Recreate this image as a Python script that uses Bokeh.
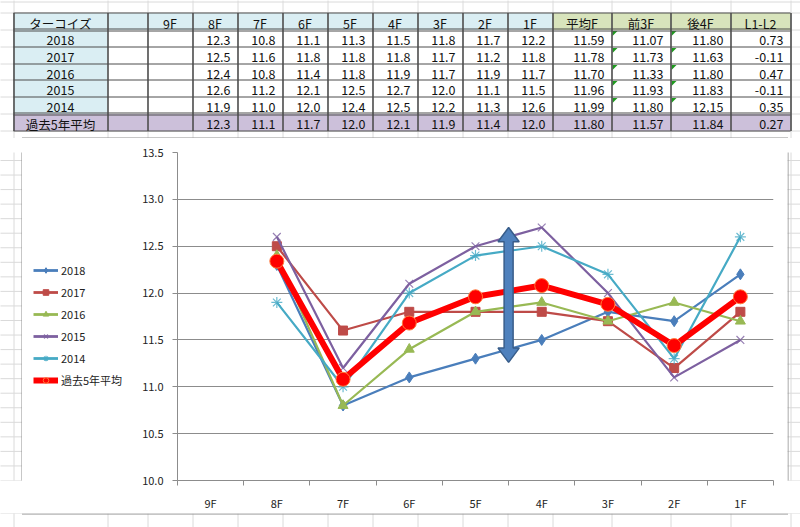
import numpy as np
from bokeh.plotting import figure
from bokeh.models import Range1d, FixedTicker, Legend, LegendItem, ColumnDataSource, PrintfTickFormatter
from bokeh.layouts import column, row
from bokeh.embed import file_html
from bokeh.resources import INLINE
from bokeh.core.properties import value

# ---------------- data ----------------
sections = ["9F", "8F", "7F", "6F", "5F", "4F", "3F", "2F", "1F"]
years = ["2018", "2017", "2016", "2015", "2014"]
corner_label = "ターコイズ"
avg_label = "過去5年平均"
times_2018 = [np.nan, 12.3, 10.8, 11.1, 11.3, 11.5, 11.8, 11.7, 12.2]
times_2017 = [np.nan, 12.5, 11.6, 11.8, 11.8, 11.8, 11.7, 11.2, 11.8]
times_2016 = [np.nan, 12.4, 10.8, 11.4, 11.8, 11.9, 11.7, 11.9, 11.7]
times_2015 = [np.nan, 12.6, 11.2, 12.1, 12.5, 12.7, 12.0, 11.1, 11.5]
times_2014 = [np.nan, 11.9, 11.0, 12.0, 12.4, 12.5, 12.2, 11.3, 12.6]
times_avg = [np.nan, 12.34, 11.08, 11.68, 11.96, 12.08, 11.88, 11.44, 11.96]
stat_headers = ["平均F", "前3F", "後4F", "L1-L2"]
# rows: 2018, 2017, 2016, 2015, 2014, 5-year average
avg_f = [11.59, 11.78, 11.70, 11.96, 11.99, 11.80]
front_3f = [11.07, 11.73, 11.33, 11.93, 11.80, 11.57]
back_4f = [11.80, 11.63, 11.80, 11.83, 12.15, 11.84]
l1_l2 = [0.73, -0.11, 0.47, -0.11, 0.35, 0.27]
y_ticks = [10.0, 10.5, 11.0, 11.5, 12.0, 12.5, 13.0, 13.5]
arrow_x = 5.0
arrow_top = 12.70
arrow_bottom = 11.26

FONT = "Noto Sans CJK JP"
SHEET_LINE = "#DADADA"
BORDER = "#4D4D4D"
BOX_LINE = "#8E8E8E"

# ---------------- sheet geometry ----------------
COL_EDGES = [13, 107, 147, 192, 237, 282, 327, 372, 417, 462, 507, 552, 611, 670, 730, 790]
ROW_EDGES = [12.5, 29.5, 46.5, 63.5, 79.5, 96.5, 113.5, 130.5]
SHEET_COLS = [c + 0.5 for c in COL_EDGES]
SHEET_ROWS = [1.5] + list(ROW_EDGES) + list(130.5 + 16.63 * np.arange(1, 25))


def plain_fig(x0, y0, w, h):
    p = figure(width=w, height=h, x_range=Range1d(x0, x0 + w), y_range=Range1d(y0 + h, y0),
               x_axis_location=None, y_axis_location=None, toolbar_location=None,
               output_backend="svg", min_border=0, outline_line_color=None,
               background_fill_color="white", border_fill_color="white")
    p.grid.visible = False
    return p


def sheet_fig(x0, y0, w, h):
    p = plain_fig(x0, y0, w, h)
    p.segment(x0=SHEET_COLS, x1=SHEET_COLS, y0=[-10] * len(SHEET_COLS), y1=[540] * len(SHEET_COLS),
              line_color=SHEET_LINE, line_width=1)
    p.segment(x0=[-10] * len(SHEET_ROWS), x1=[810] * len(SHEET_ROWS), y0=SHEET_ROWS, y1=SHEET_ROWS,
              line_color=SHEET_LINE, line_width=1)
    return p


# ---------------- table ----------------
tp = sheet_fig(0, 0, 800, 138)

header = [corner_label, ""] + sections + stat_headers
body = []
for i, yr in enumerate(years):
    vals = [times_2018, times_2017, times_2016, times_2015, times_2014][i]
    body.append([yr, ""] + ["" if np.isnan(v) else "%.1f" % v for v in vals]
                + ["%.2f" % avg_f[i], "%.2f" % front_3f[i], "%.2f" % back_4f[i], "%.2f" % l1_l2[i]])
body.append([avg_label, ""] + ["" if np.isnan(v) else "%.1f" % v for v in times_avg]
            + ["%.2f" % avg_f[5], "%.2f" % front_3f[5], "%.2f" % back_4f[5], "%.2f" % l1_l2[5]])
table = [header] + body

BLUE = "#DAEEF3"
GREEN = "#D8E4BC"
PURPLE = "#CCC0DA"
qx0, qx1, qy0, qy1, qfill = [], [], [], [], []
cx, cy, ct, rx, ry, rt = [], [], [], [], [], []
for r, cells in enumerate(table):
    top, bot = ROW_EDGES[r], ROW_EDGES[r + 1]
    for c, txt in enumerate(cells):
        left, right = COL_EDGES[c], COL_EDGES[c + 1]
        if r == 0:
            fill = BLUE if c <= 10 else GREEN
        elif r == len(table) - 1:
            fill = PURPLE
        else:
            fill = BLUE if c == 0 else "white"
        qx0.append(left); qx1.append(right); qy0.append(top); qy1.append(bot); qfill.append(fill)
        ymid = (top + bot) / 2 + 1.5
        if r == 0 or c == 0:
            cx.append((left + right) / 2); cy.append(ymid); ct.append(txt)
        elif txt:
            rx.append(right - 7); ry.append(ymid); rt.append(txt)

tp.quad(left=qx0, right=qx1, top=qy0, bottom=qy1, fill_color=qfill, line_color=None)
# error-indicator triangles
tri_x, tri_y = [], []
for c in (12, 13):
    for r in range(1, 6):
        x, y = COL_EDGES[c] + 1, ROW_EDGES[r] + 1
        tri_x.append([x, x + 5, x]); tri_y.append([y, y, y + 5])
tp.patches(tri_x, tri_y, fill_color="#1F9A1F", line_color=None)

# borders
h_single = [12.5, 46.5, 63.5, 79.5, 96.5, 130.5]
h_double = [28.5, 30.5, 112.5, 114.5]
hs = h_single + h_double
tp.segment(x0=[13] * len(hs), x1=[790] * len(hs), y0=hs, y1=hs, line_color=BORDER, line_width=1)
tp.segment(x0=SHEET_COLS, x1=SHEET_COLS, y0=[12.5] * len(SHEET_COLS), y1=[130.5] * len(SHEET_COLS),
           line_color=BORDER, line_width=1.6)

tp.text(x=cx, y=cy, text=ct, text_font=value(FONT), text_font_size="12.5px",
        text_align="center", text_baseline="middle", text_color="#111111")
tp.text(x=rx, y=ry, text=rt, text_font=value(FONT), text_font_size="12.5px",
        text_align="right", text_baseline="middle", text_color="#111111")
# chart box top edge
tp.segment(x0=[21.5], x1=[787.5], y0=[137.5], y1=[137.5], line_color=BOX_LINE, line_width=1)

# ---------------- side / bottom sheet strips ----------------
lp = sheet_fig(0, 138, 22, 375)
lp.segment(x0=[21.5], x1=[21.5], y0=[137], y1=[514], line_color=BOX_LINE, line_width=1)
rp = sheet_fig(787, 138, 13, 375)
rp.segment(x0=[787.5], x1=[787.5], y0=[137], y1=[514], line_color=BOX_LINE, line_width=1)
bp = sheet_fig(0, 513, 800, 14)
bp.segment(x0=[21.5], x1=[787.5], y0=[513.5], y1=[513.5], line_color=BOX_LINE, line_width=1)

# ---------------- chart ----------------
p = figure(width=652, height=375, x_range=Range1d(0, len(sections)), y_range=Range1d(10, 13.5),
           toolbar_location=None, output_backend="svg",
           min_border_left=42, min_border_right=14, min_border_top=14, min_border_bottom=31,
           outline_line_color=None, background_fill_color="white", border_fill_color="white")

xs = [i + 0.5 for i in range(len(sections))]
src = ColumnDataSource(dict(x=xs, s2018=times_2018, s2017=times_2017, s2016=times_2016,
                            s2015=times_2015, s2014=times_2014, savg=times_avg))

p.xgrid.visible = False
p.ygrid.grid_line_color = "#8C8C8C"
p.ygrid.grid_line_width = 1
p.yaxis.ticker = FixedTicker(ticks=y_ticks)
p.yaxis.formatter = PrintfTickFormatter(format="%.1f")
p.xaxis.ticker = FixedTicker(ticks=xs, minor_ticks=list(range(len(sections) + 1)))
p.xaxis.major_label_overrides = {x: s for x, s in zip(xs, sections)}
for ax in (p.xaxis[0], p.yaxis[0]):
    ax.axis_line_color = "#8C8C8C"
    ax.major_tick_line_color = "#8C8C8C"
    ax.minor_tick_line_color = "#8C8C8C"
    ax.major_label_text_font = FONT
    ax.major_label_text_font_size = "11px"
    ax.major_label_text_color = "#222222"
p.yaxis.major_tick_out = 5
p.yaxis.major_tick_in = 0
p.yaxis.minor_tick_out = 0
p.yaxis.minor_tick_in = 0
p.yaxis.major_label_standoff = 9
p.xaxis.major_tick_out = 0
p.xaxis.major_tick_in = 0
p.xaxis.minor_tick_out = 5
p.xaxis.minor_tick_in = 0
p.xaxis.major_label_standoff = 9

series = [
    ("2018", "s2018", "#4A7EBB", "diamond", 11),
    ("2017", "s2017", "#BE4B48", "square", 9),
    ("2016", "s2016", "#98B954", "triangle", 10),
    ("2015", "s2015", "#7D60A0", "x", 11),
    ("2014", "s2014", "#46AAC5", "asterisk", 11),
]

# legend lives in its own small panel left of the chart; its sample renderers
# hold one point placed outside the visible range so only the legend shows them
gp = plain_fig(22, 138, 113, 375)
offscreen = ColumnDataSource(dict(x=[-1000], y=[-1000]))
items = []


def draw_series(key, color, marker, size):
    p.line("x", key, source=src, line_color=color, line_width=2.2)
    gl = gp.line("x", "y", source=offscreen, line_color=color, line_width=2.8)
    if marker in ("x", "asterisk"):
        kw = dict(marker=marker, size=size, line_color=color, line_width=1.2, line_alpha=0.8)
    else:
        kw = dict(marker=marker, size=size, fill_color=color, line_color=color)
    p.scatter("x", key, source=src, **kw)
    gs = gp.scatter("x", "y", source=offscreen, **kw)
    return gl, gs


for label, key, color, marker, size in series:
    gl, gs = draw_series(key, color, marker, size)
    items.append(LegendItem(label=label, renderers=[gl, gs]))

p.line("x", "savg", source=src, line_color="#FF0000", line_width=6)
avg_kw = dict(marker="circle", size=14, fill_color="#FF0000", line_color="#FF7A3A", line_width=1)
p.scatter("x", "savg", source=src, **avg_kw)
gl = gp.line("x", "y", source=offscreen, line_color="#FF0000", line_width=6)
gs = gp.scatter("x", "y", source=offscreen, **dict(avg_kw, size=12))
items.append(LegendItem(label=avg_label, renderers=[gl, gs]))

# double-headed block arrow
hw_shaft, hw_head, head_len = 0.068, 0.16, 0.153
ax_pts = [arrow_x, arrow_x + hw_head, arrow_x + hw_shaft, arrow_x + hw_shaft, arrow_x + hw_head,
          arrow_x, arrow_x - hw_head, arrow_x - hw_shaft, arrow_x - hw_shaft, arrow_x - hw_head]
ay_pts = [arrow_top, arrow_top - head_len, arrow_top - head_len, arrow_bottom + head_len,
          arrow_bottom + head_len, arrow_bottom, arrow_bottom + head_len, arrow_bottom + head_len,
          arrow_top - head_len, arrow_top - head_len]
p.patch(ax_pts, ay_pts, fill_color="#4F81BD", line_color="#385D8A", line_width=1.5)

legend = Legend(items=items, location=(11, 92), orientation="vertical",
                border_line_color=None, background_fill_alpha=0, padding=0, margin=0,
                spacing=6, glyph_width=25, glyph_height=14, label_height=14, label_standoff=3,
                label_text_font=FONT, label_text_font_size="11px", label_text_color="#222222")
gp.add_layout(legend)

layout = column(tp, row(lp, gp, p, rp), bp)
open("out.html", "w").write(file_html(layout, INLINE))
